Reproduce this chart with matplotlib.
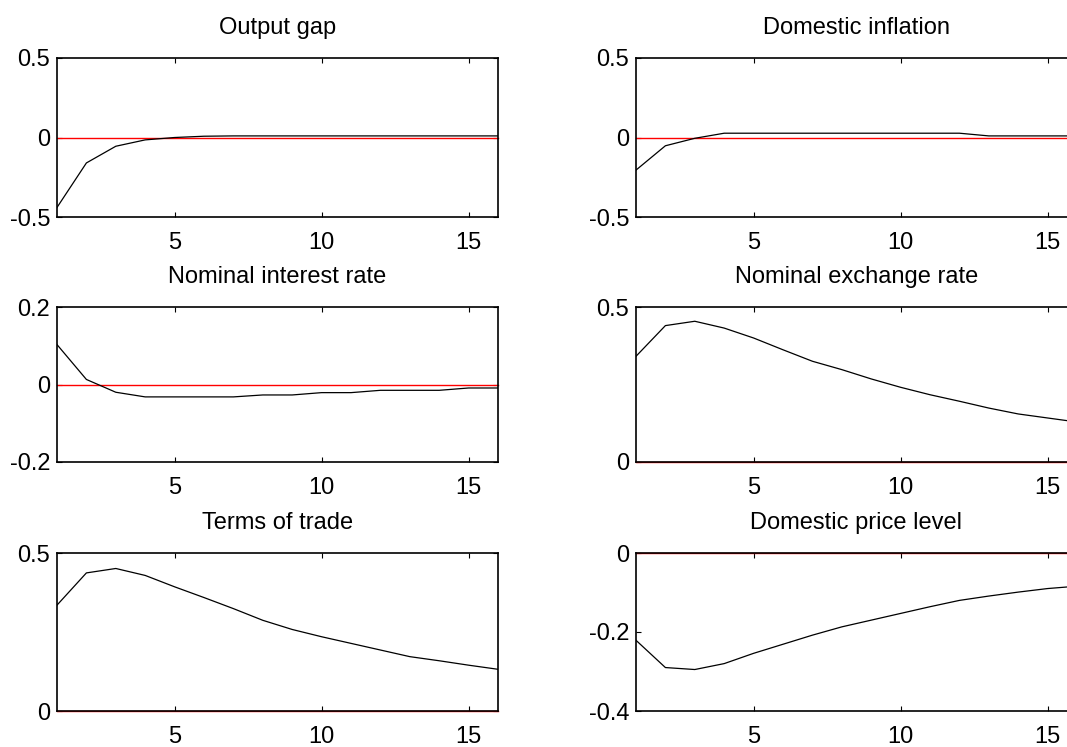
import matplotlib
matplotlib.use("Agg")
import matplotlib.pyplot as plt

plt.rcParams['font.family'] = ['Liberation Sans', 'DejaVu Sans']
plt.rcParams['axes.unicode_minus'] = False

periods = list(range(1, 17))

output_gap = [-0.44, -0.16, -0.055, -0.015, 0.0, 0.008, 0.01, 0.01,
              0.01, 0.01, 0.01, 0.01, 0.01, 0.01, 0.01, 0.01]
dom_inflation = [-0.205, -0.052, -0.005, 0.027, 0.027, 0.027, 0.027, 0.027,
                 0.027, 0.027, 0.027, 0.027, 0.01, 0.01, 0.01, 0.01]
interest_rate = [0.103, 0.013, -0.02, -0.032, -0.032, -0.032, -0.032, -0.027,
                 -0.027, -0.021, -0.021, -0.015, -0.015, -0.015, -0.009, -0.009]
exchange_rate = [0.341, 0.44, 0.454, 0.432, 0.40, 0.362, 0.325, 0.298,
                 0.268, 0.241, 0.217, 0.196, 0.174, 0.155, 0.142, 0.129]
terms_of_trade = [0.335, 0.437, 0.451, 0.429, 0.393, 0.359, 0.324, 0.287,
                  0.258, 0.235, 0.214, 0.193, 0.172, 0.159, 0.145, 0.132]
price_level = [-0.221, -0.29, -0.295, -0.28, -0.254, -0.231, -0.208, -0.187,
               -0.170, -0.153, -0.136, -0.12, -0.109, -0.099, -0.09, -0.084]

titles = ['Output gap', 'Domestic inflation', 'Nominal interest rate',
          'Nominal exchange rate', 'Terms of trade', 'Domestic price level']
series = [output_gap, dom_inflation, interest_rate,
          exchange_rate, terms_of_trade, price_level]
y_limits = [(-0.5, 0.5), (-0.5, 0.5), (-0.2, 0.2),
            (0, 0.5), (0, 0.5), (-0.4, 0)]
y_ticks = [[-0.5, 0, 0.5], [-0.5, 0, 0.5], [-0.2, 0, 0.2],
           [0, 0.5], [0, 0.5], [-0.4, -0.2, 0]]
y_ticklabels = [['-0.5', '0', '0.5'], ['-0.5', '0', '0.5'], ['-0.2', '0', '0.2'],
                ['0', '0.5'], ['0', '0.5'], ['-0.4', '-0.2', '0']]
x_ticks = [5, 10, 15]

W, H = 1067, 747
fig = plt.figure(figsize=(W / 100, H / 100), dpi=100)

# axes boxes in pixels: (left, right) and (top, bottom)
col_x = [(57, 498), (636, 1077)]
row_y = [(58, 217), (307, 462), (553, 711)]

for i in range(6):
    r, c = divmod(i, 2)
    x0, x1 = col_x[c]
    y0, y1 = row_y[r]
    ax = fig.add_axes([x0 / W, 1 - y1 / H, (x1 - x0) / W, (y1 - y0) / H])
    ax.plot(periods, series[i], color='black', lw=0.9, zorder=3)
    ax.plot(periods, [0] * len(periods), color='red', lw=1.0, zorder=2, clip_on=False)
    ax.set_xlim(1, 16)
    ax.set_ylim(*y_limits[i])
    ax.set_xticks(x_ticks)
    ax.set_xticklabels([str(t) for t in x_ticks])
    ax.set_yticks(y_ticks[i])
    ax.set_yticklabels(y_ticklabels[i])
    ax.tick_params(direction='in', length=3.5, width=0.8, top=True, right=True,
                   labelsize=17)
    ax.tick_params(axis='x', pad=11)
    ax.tick_params(axis='y', pad=5)
    for sp in ax.spines.values():
        sp.set_linewidth(1.2)
    ax.set_title(titles[i], fontsize=17, pad=17)

fig.savefig('out.png', dpi=100, facecolor='white')
